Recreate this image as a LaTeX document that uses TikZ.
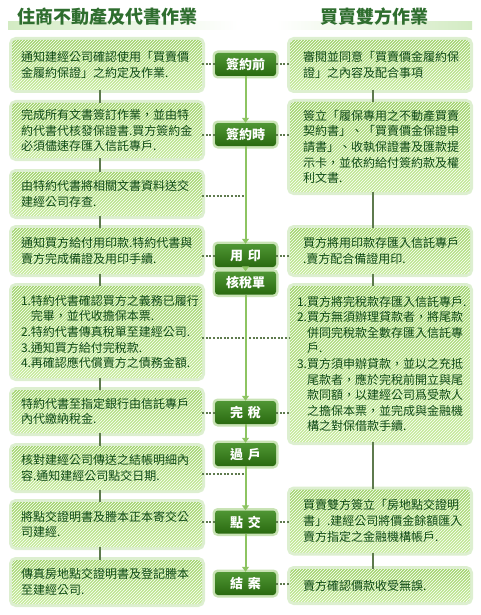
\documentclass[tikz,border=0pt]{standalone}
\usepackage{fontspec}
\setmainfont{Noto Sans CJK TC}
\usetikzlibrary{arrows.meta,patterns}
\definecolor{boxtop}{HTML}{A2D46E}
\definecolor{boxbot}{HTML}{C8EC9E}
\definecolor{boxglow}{HTML}{DDEFD0}
\definecolor{boxtext}{HTML}{0F4A17}
\definecolor{steptop}{HTML}{4F9634}
\definecolor{stepbot}{HTML}{2A6A10}
\definecolor{stepglow}{HTML}{C9E3B5}
\definecolor{linkcol}{HTML}{5E7A4E}
\definecolor{flowcol}{HTML}{8DC462}
\definecolor{headcol}{HTML}{2F6E2F}
\definecolor{bandcol}{HTML}{D3EBC3}
\begin{document}
\begin{tikzpicture}[
      x=1pt, y=-1pt,
      head/.style={inner sep=0pt, text=headcol, font=\fontsize{18}{18}\selectfont\bfseries},
      box/.style={rounded corners=4pt, top color=boxtop, bottom color=boxbot,
        preaction={draw=boxglow, line width=6pt},
        postaction={pattern=north east lines, pattern color=white, fill opacity=0.18},
        text=boxtext, align=left, inner ysep=0pt,
        font=\fontsize{12}{15.6}\selectfont},
      lbox/.style={box, text width=172pt, inner xsep=9pt},
      rbox/.style={box, text width=154pt, inner xsep=13pt},
      stepnode/.style={rounded corners=3pt, top color=steptop, bottom color=stepbot,
        preaction={draw=stepglow, line width=5pt}, text=white, inner sep=0pt,
        minimum width=61pt, minimum height=23pt,
        font=\fontsize{13}{13}\selectfont\bfseries},
      link/.style={draw=linkcol, line width=2pt},
      dots/.style={draw=linkcol, line width=2pt, dash pattern=on 2pt off 1.6pt},
      flow/.style={draw=flowcol, line width=2pt, -{Triangle[width=7pt,length=5pt]}}
    ]
      \useasboundingbox (0,0) rectangle (480,615);
      \shade[left color=bandcol, right color=white] (8,22) rectangle (238,30);
      \shade[left color=white, right color=bandcol] (276,22) rectangle (472,30);
      \node[head] (lhead) at (107,17) {住商不動產及代書作業};
      \node[head] (rhead) at (374,17) {買賣雙方作業};

      \node[lbox, minimum height=50pt] (l1) at (107,65)
        {通知建經公司確認使用「買賣價\\金履約保證」之約定及作業.};
      \node[lbox, minimum height=55pt] (l2) at (107,130.5)
        {完成所有文書簽訂作業，並由特\\約代書代核發保證書.買方簽約金\\必須儘速存匯入信託專戶.};
      \node[lbox, minimum height=44pt] (l3) at (107,194)
        {由特約代書將相關文書資料送交\\建經公司存查.};
      \node[lbox, minimum height=46pt] (l4) at (107,251)
        {通知買方給付用印款.特約代書與\\賣方完成備證及用印手續.};
      \node[lbox, minimum height=92pt] (l5) at (107,332)
        {1.特約代書確認買方之義務已履行\\\phantom{1.}完畢，並代收擔保本票.\\2.特約代書傳真稅單至建經公司.\\3.通知買方給付完稅款.\\4.再確認應代償賣方之債務金額.};
      \node[lbox, minimum height=43pt] (l6) at (107,411.5)
        {特約代書至指定銀行由信託專戶\\內代繳納稅金.};
      \node[lbox, minimum height=44pt] (l7) at (107,468)
        {核對建經公司傳送之結帳明細內\\容.通知建經公司點交日期.};
      \node[lbox, minimum height=45pt] (l8) at (107,524.5)
        {將點交證明書及謄本正本寄交公\\司建經.};
      \node[lbox, minimum height=44pt] (l9) at (107,582)
        {傳真房地點交證明書及登記謄本\\至建經公司.};

      \node[rbox, minimum height=50pt] (r1) at (380,65)
        {審閱並同意「買賣價金履約保\\證」之內容及配合事項};
      \node[rbox, minimum height=90pt] (r2) at (380,147)
        {簽立「履保專用之不動產買賣\\契約書」、「買賣價金保證申\\請書」、收執保證書及匯款提\\示卡，並依約給付簽約款及權\\利文書.};
      \node[rbox, minimum height=46pt] (r3) at (380,251)
        {買方將用印款存匯入信託專戶\\.賣方配合備證用印.};
      \node[rbox, minimum height=156pt, text width=166pt, inner xsep=7pt] (r4) at (380,364)
        {1.買方將完稅款存匯入信託專戶.\\2.買方無須辦理貸款者，將尾款\\\phantom{2.}併同完稅款全數存匯入信託專\\\phantom{2.}戶.\\3.買方須申辦貸款，並以之充抵\\\phantom{3.}尾款者，應於完稅前開立與尾\\\phantom{3.}款同額，以建經公司爲受款人\\\phantom{3.}之擔保本票，並完成與金融機\\\phantom{3.}構之對保借款手續.};
      \node[rbox, minimum height=63pt] (r5) at (380,521)
        {買賣雙方簽立「房地點交證明\\書」.建經公司將價金餘額匯入\\賣方指定之金融機構帳戶.};
      \node[rbox, minimum height=33pt] (r6) at (380,585.5)
        {賣方確認價款收受無誤.};

      \node[stepnode] (s1) at (245.5,64.5) {簽約前};
      \node[stepnode] (s2) at (245.5,134.5) {簽約時};
      \node[stepnode] (s3) at (245.5,255.5) {用\hspace{.35em}印};
      \node[stepnode] (s4) at (245.5,283) {核稅單};
      \node[stepnode] (s5) at (245.5,412.5) {完\hspace{.35em}稅};
      \node[stepnode] (s6) at (245.5,454.5) {過\hspace{.35em}戶};
      \node[stepnode] (s7) at (245.5,522) {點\hspace{.35em}交};
      \node[stepnode] (s8) at (245.5,583.5) {結\hspace{.35em}案};

      \coordinate (lline) at (100,0);
      \coordinate (rline) at (373,0);
      \foreach \a/\b in {l1/l2,l2/l3,l3/l4,l4/l5,l5/l6,l6/l7,l7/l8,l8/l9}
        \draw[link] (\a.south -| lline) -- (\b.north -| lline);
      \foreach \a/\b in {r1/r2,r2/r3,r3/r4,r4/r5,r5/r6}
        \draw[link] (\a.south -| rline) -- (\b.north -| rline);

      \draw[dots] (l1.east |- s1.west) -- (s1.west);
      \draw[dots] (s1.east) -- (s1.east -| r1.west);
      \draw[dots] (l2.east |- s2.west) -- (s2.west);
      \draw[dots] (s2.east) -- (s2.east -| r2.west);
      \draw[dots] ([yshift=-2pt]l3.east) -- ([yshift=-2pt,xshift=-2pt]l3.east -| s1.south);
      \draw[dots] (l4.east |- s3.west) -- (s3.west);
      \draw[dots] (s3.east) -- (s3.east -| r3.west);
      \draw[dots] ([yshift=-6pt]l5.east) -- ([yshift=-6pt]l5.east -| r4.west);
      \draw[dots] (l6.east |- s5.west) -- (s5.west);
      \draw[dots] (s5.east) -- (s5.east -| r4.west);
      \draw[dots] ([yshift=-6pt]l7.east) -- ([yshift=-6pt,xshift=-2pt]l7.east -| s6.south);
      \draw[dots] (l8.east |- s7.west) -- (s7.west);
      \draw[dots] (s7.east) -- (s7.east -| r5.west);
      \draw[dots] (s8.east) -- (s8.east -| r6.west);

      \foreach \a/\b in {s1/s2,s2/s3,s3/s4,s4/s5,s5/s6,s6/s7,s7/s8}
        \draw[flow] (\a) -- (\b);
    \end{tikzpicture}
\end{document}
